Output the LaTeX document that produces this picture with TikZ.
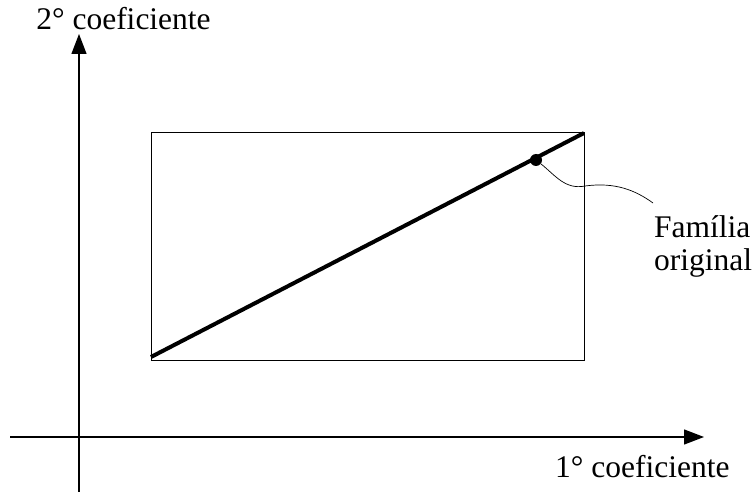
\documentclass[tikz,border=0pt]{standalone}
\usepackage{fontspec}
\setmainfont{Liberation Serif}
\usetikzlibrary{arrows.meta}
\begin{document}
\begin{tikzpicture}[x=1pt,y=-1pt,
  axis/.style={line width=1.3pt,-{Triangle[length=20pt,width=15pt]}},
  lbl/.style={font=\fontsize{31.5}{34}\selectfont,inner sep=0pt}]
\useasboundingbox (0,0) rectangle (756,494);
% axes
\coordinate (ybot) at (79,492);
\coordinate (ytop) at (79,34);
\coordinate (xl) at (10,437);
\coordinate (xr) at (704,437);
\draw[axis] (ybot) -- (ytop);
\draw[axis] (xl) -- (xr);
% rectangle
\node[draw,line width=0.9pt,minimum width=433pt,minimum height=228pt,inner sep=0pt,anchor=north west] (box) at (151,132) {};
% thick line
\coordinate (p0) at (151,357);
\coordinate (p1) at (584,133);
\draw[line width=4pt] (p0) -- (p1);
\node[circle,fill,inner sep=0pt,minimum size=12pt] (dot) at (536,160) {};
% labels
\node[lbl,anchor=base] (ylab) at (123.5,30) {2° coeficiente};
\node[lbl,anchor=base west] (xlab) at (555,478) {1° coeficiente};
\node[lbl,anchor=base west] (fam) at (654,238) {Família};
\node[lbl,anchor=base west] (ori) at (654,271) {original};
% leader
\draw[line width=0.7pt] (dot) .. controls (555,175) and (565,190) .. (585,186)
  .. controls (615,182) and (635,190) .. (653,203);
\end{tikzpicture}
\end{document}
